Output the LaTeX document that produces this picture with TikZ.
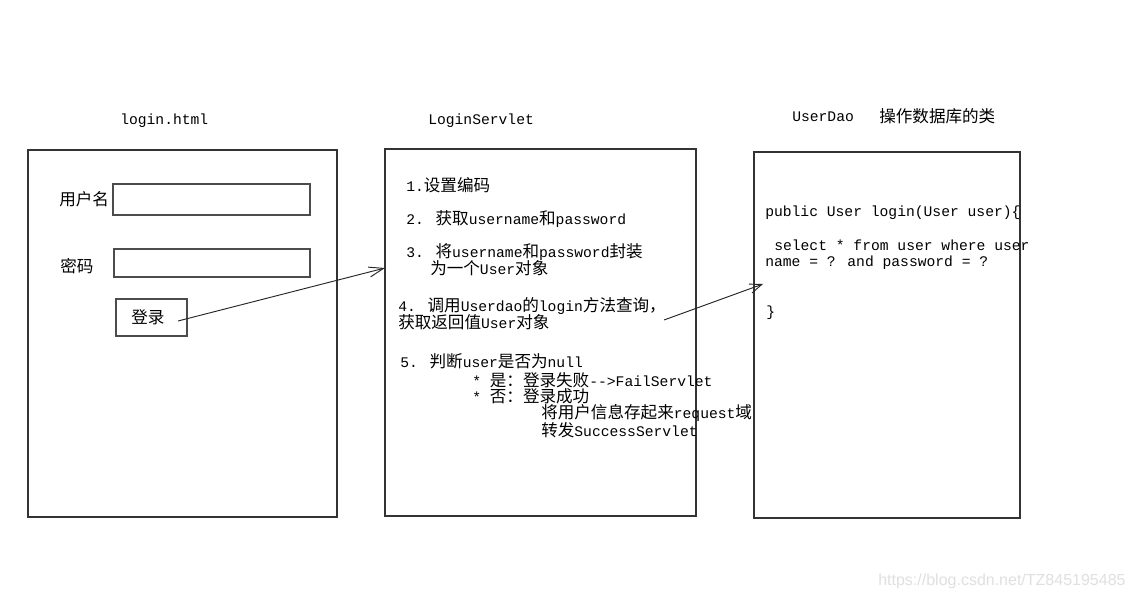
\documentclass[tikz,border=0pt]{standalone}
\usepackage{fontspec}
\setmainfont{Liberation Mono}
\newfontfamily\cjkfont{Noto Sans CJK SC}[Scale=1.13]
\newfontfamily\wmfont{Liberation Sans}
\newcommand\zh[1]{{\cjkfont #1}}
\usetikzlibrary{arrows.meta,fit}
\tikzset{
  frame/.style={draw=black!80, line width=0.9pt, inner sep=0pt},
  field/.style={draw=black!70, line width=0.8pt, inner sep=0pt},
  txt/.style={anchor=base west, inner sep=0pt, font=\fontsize{11}{13}\selectfont},
  link/.style={draw=black!85, line width=0.7pt},
  headA/.style={-{Straight Barb[length=11pt,width=7.5pt]}},
  headB/.style={-{Straight Barb[length=9pt,width=7pt]}},
  wm/.style={anchor=base west, inner sep=0pt, text=black!12, font=\wmfont\fontsize{12}{14}\selectfont},
}
\begin{document}
\begin{tikzpicture}[x=0.75pt,y=-0.75pt]
\fill[white] (0,0) rectangle (1134,598);
\useasboundingbox (0,0) rectangle (1134,598);

% ---------- left: login.html ----------
\node[txt] (t1) at (120,125) {login.html};
\node[frame, fit={(28,150)(337,517)}] (lbox) {};
\node[txt] (ulab) at (59,206) {\zh{用户名}};
\node[field, fit={(113,184)(310,215)}] (ufield) {};
\node[txt] (plab) at (60,273) {\zh{密码}};
\node[field, fit={(114,249)(310,277)}] (pfield) {};
\node[field, fit={(116,299)(187,336)}] (btn) {};
\node[txt] (btnlab) at (131,324) {\zh{登录}};

% ---------- middle: LoginServlet ----------
\node[txt] (t2) at (428,125) {LoginServlet};
\node[frame, fit={(385,149)(696,516)}] (mbox) {};
\node[txt] (m1) at (406,192) {1.\zh{设置编码}};
\node[txt] (m2) at (406,225) {2. \zh{获取}username\zh{和}password};
\node[txt] (m3) at (406,258) {3. \zh{将}username\zh{和}password\zh{封装}};
\node[txt] (m3b) at (430,275) {\zh{为一个}User\zh{对象}};
\node[txt] (m4) at (398,312) {4. \zh{调用}Userdao\zh{的}login\zh{方法查询，}};
\node[txt] (m4b) at (398,329) {\zh{获取返回值}User\zh{对象}};
\node[txt] (m5) at (400,368) {5. \zh{判断}user\zh{是否为}null};
\node[txt] (m5a) at (472,386) {* \zh{是：登录失败}-{}->FailServlet};
\node[txt] (m5b) at (472,402) {* \zh{否：登录成功}};
\node[txt] (m5c) at (541,418) {\zh{将用户信息存起来}request\zh{域}};
\node[txt] (m5d) at (541,436) {\zh{转发}SuccessServlet};

% ---------- right: UserDao ----------
\node[txt] (t3a) at (792,122) {UserDao};
\node[txt] (t3b) at (879,123) {\zh{操作数据库的类}};
\node[frame, fit={(754,152)(1020,518)}] (rbox) {};
\node[txt] (r1) at (765,217) {public User login(User user)\{};
\node[txt] (r2) at (774,251) {select * from user where user};
\node[txt] (r3) at (765,267) {name = ? and password = ?};
\node[txt] (r4) at (766,317) {\}};

% ---------- connectors ----------
\coordinate (a1s) at (178,321);
\coordinate (a1e) at (385,268);
\draw[link, headA] (a1s) -- (a1e);
\coordinate (a2s) at (664,320);
\coordinate (a2e) at (763,284);
\draw[link, headB] (a2s) -- (a2e);

% ---------- watermark ----------
\node[wm] (wmk) at (878,585) {https://blog.csdn.net/TZ845195485};
\end{tikzpicture}
\end{document}
